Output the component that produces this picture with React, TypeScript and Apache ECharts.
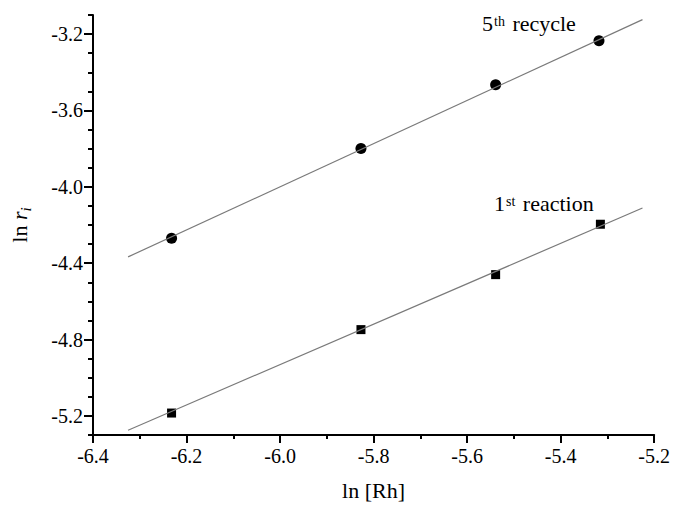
import React, { useEffect, useRef } from "react";
import * as echarts from "echarts";

const xFirst = [-6.232, -5.827, -5.539, -5.315];
const yFirst = [-5.185, -4.748, -4.46, -4.196];
const xFifth = [-6.232, -5.827, -5.539, -5.318];
const yFifth = [-4.269, -3.799, -3.465, -3.235];
const fitX = [-6.325, -5.225];
const fitFirst = [-5.275, -4.111];
const fitFifth = [-4.367, -3.124];
const yMajorTicks = [-5.2, -4.8, -4.4, -4.0, -3.6, -3.2];

const FONT = "'Liberation Serif', 'Times New Roman', serif";

export default function App() {
  const ref = useRef<HTMLDivElement>(null);
  useEffect(() => {
    document.body.style.margin = "0";
    const chart = echarts.init(ref.current!, null, { renderer: "svg" });
    const pair = (xs: number[], ys: number[]) => xs.map((x, i) => [x, ys[i]]);
    const annRich = {
      a: { fontFamily: FONT, fontSize: 22, color: "#000", lineHeight: 26 },
      b: { fontFamily: FONT, fontSize: 14, color: "#000", verticalAlign: "top", lineHeight: 26, padding: [4, 2, 0, 1] },
    };
    const tickRich = { t: { fontFamily: FONT, fontSize: 20, color: "#000" } };
    chart.setOption({
      animation: false,
      backgroundColor: "#ffffff",
      textStyle: { fontFamily: FONT, color: "#000" },
      grid: { left: 86, right: 17, top: 15, bottom: 68, containLabel: false },
      xAxis: {
        type: "value",
        min: -6.4,
        max: -5.2,
        interval: 0.2,
        name: "{t|ln [Rh]}",
        nameLocation: "middle",
        nameGap: 44,
        nameTextStyle: { rich: { t: { fontFamily: FONT, fontSize: 22, color: "#000" } } },
        axisLine: { lineStyle: { color: "#000", width: 2 } },
        axisTick: { length: 8, lineStyle: { color: "#000", width: 2 } },
        minorTick: { show: true, splitNumber: 2, length: 4, lineStyle: { color: "#000", width: 2 } },
        splitLine: { show: false },
        axisLabel: {
          margin: 11,
          rich: tickRich,
          formatter: (v: number) => "{t|" + v.toFixed(1) + "}",
        },
      },
      yAxis: [
        {
          type: "value",
          min: -5.3,
          max: -3.1,
          name: "{n|ln }{r|r}{i|i}",
          nameLocation: "middle",
          nameRotate: 90,
          nameGap: 60,
          nameTextStyle: {
            rich: {
              n: { fontFamily: FONT, fontSize: 22, color: "#000", lineHeight: 28 },
              r: { fontFamily: FONT, fontSize: 22, fontStyle: "italic", color: "#000", lineHeight: 28 },
              i: { fontFamily: FONT, fontSize: 15, fontStyle: "italic", color: "#000", verticalAlign: "bottom", lineHeight: 28, padding: [10, 0, 0, 0] },
            },
          },
          axisLine: { lineStyle: { color: "#000", width: 2 } },
          axisTick: { length: 9, customValues: yMajorTicks, lineStyle: { color: "#000", width: 2 } },
          splitLine: { show: false },
          axisLabel: {
            margin: 10,
            rich: tickRich,
            customValues: yMajorTicks,
            formatter: (v: number) => "{t|" + v.toFixed(1) + "}",
          },
        },
        {
          type: "value",
          position: "left",
          min: -5.3,
          max: -3.1,
          interval: 0.1,
          axisLine: { show: false },
          axisTick: { length: 5, lineStyle: { color: "#000", width: 2 } },
          axisLabel: { show: false },
          splitLine: { show: false },
        },
      ],
      series: [
        {
          type: "line",
          data: pair(fitX, fitFifth),
          symbol: "none",
          lineStyle: { color: "#7a7a7a", width: 1.2 },
          silent: true,
        },
        {
          type: "line",
          data: pair(fitX, fitFirst),
          symbol: "none",
          lineStyle: { color: "#7a7a7a", width: 1.2 },
          silent: true,
        },
        {
          type: "scatter",
          data: pair(xFifth, yFifth),
          symbol: "circle",
          symbolSize: 11,
          itemStyle: { color: "#000", opacity: 1 },
        },
        {
          type: "scatter",
          data: pair(xFirst, yFirst),
          symbol: "rect",
          symbolSize: 9,
          itemStyle: { color: "#000", opacity: 1 },
        },
      ],
      graphic: [
        {
          type: "text",
          left: 482,
          top: 10,
          style: { text: "{a|5}{b|th}{a| recycle}", rich: annRich },
        },
        {
          type: "text",
          left: 494,
          top: 190,
          style: { text: "{a|1}{b|st}{a| reaction}", rich: annRich },
        },
      ],
    });
    return () => chart.dispose();
  }, []);
  return (
    <div
      ref={ref}
      style={{ position: "absolute", left: 0, top: 0, width: 673, height: 506 }}
    />
  );
}
